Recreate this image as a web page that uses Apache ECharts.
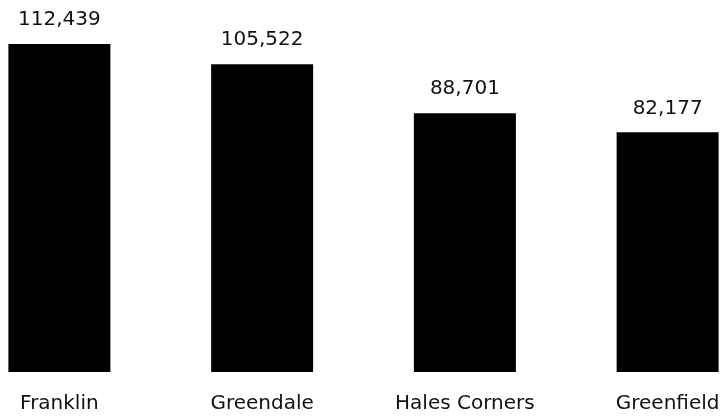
<!DOCTYPE html>
<html><head><meta charset="utf-8">
<script src="https://cdn.jsdelivr.net/npm/echarts@6/dist/echarts.min.js"></script>
<style>html,body{margin:0;padding:0;background:#fff;overflow:hidden;width:725px;height:417px}#c{position:absolute;left:-42px;top:0;width:811px;height:417px}</style>
</head><body><div id="c"></div>
<script>
const categories = ["Franklin", "Greendale", "Hales Corners", "Greenfield"];
const values = [112439, 105522, 88701, 82177];

const chart = echarts.init(document.getElementById('c'), null, {renderer: 'canvas'});
chart.setOption({
  animation: false,
  backgroundColor: '#ffffff',
  grid: {left: 0, right: 0, top: 22, bottom: 45, containLabel: false},
  xAxis: {
    type: 'category', data: categories,
    axisLine: {show: false}, axisTick: {show: false},
    axisLabel: {interval: 0, margin: 22, color: '#111', fontFamily: 'DejaVu Sans', fontSize: 20}
  },
  yAxis: {type: 'value', min: 0, max: 120000, show: false, splitLine: {show: false}},
  series: [{
    type: 'bar', data: values, barWidth: 102,
    itemStyle: {color: '#000'},
    label: {show: true, position: 'top', distance: 14, color: '#111', fontFamily: 'DejaVu Sans', fontSize: 20,
      formatter: p => p.value.toLocaleString('en-US')}
  }]
});
</script></body></html>
